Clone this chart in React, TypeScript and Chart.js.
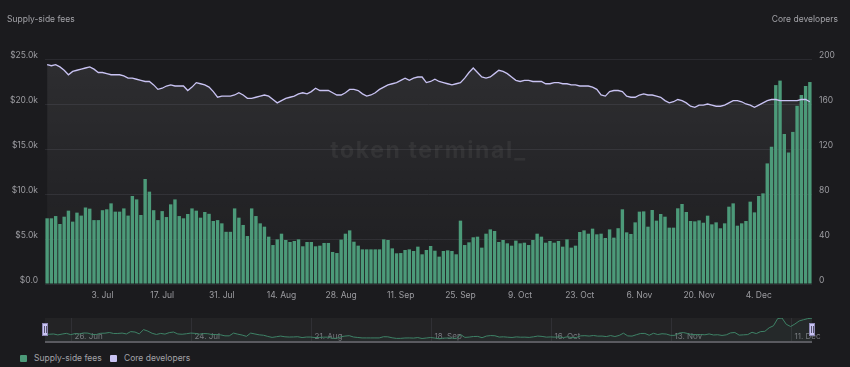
import React, { useEffect, useRef } from 'react';
import { Chart, registerables } from 'chart.js';

Chart.register(...registerables);

const START_DATE = Date.UTC(2023, 5, 20);
const MONTHS = ['Jan', 'Feb', 'Mar', 'Apr', 'May', 'Jun', 'Jul', 'Aug', 'Sep', 'Oct', 'Nov', 'Dec'];

// Supply-side fees (USD per day)
const fees = [
  7300, 7300, 7550, 6670, 7480, 8150, 6930, 7930, 7600, 8500,
  8370, 7100, 7100, 8200, 8300, 8960, 8040, 8040, 8400, 7600,
  9780, 9400, 7670, 11670, 10260, 8200, 7100, 8100, 7440, 8850,
  9400, 7550, 7300, 7780, 8400, 8150, 7370, 8000, 7800, 7000,
  7100, 6740, 5800, 5800, 8400, 7370,
  6560, 5330, 8400, 7550, 6740, 6370, 5260, 4330, 4960, 5590,
  4890, 4670, 4780, 4960, 4190, 4670, 4670, 4190, 4260, 4560,
  4560, 3560, 3440, 4930, 5590, 5960, 4700, 4260, 3850, 3850,
  3850, 3850, 3850, 4960, 4890, 3960, 3410, 3440, 3780, 3850,
  3670, 4150, 3300, 3780,
  4220, 3700, 3040, 3670, 3740, 3670, 3300, 7040, 4330, 4630,
  5190, 5260, 4040, 5590, 6070, 5890, 4670, 4890, 4520, 4260,
  4820, 4520, 4590, 4330, 4890, 5590, 5260, 4590, 4780, 4590,
  4780, 4150, 4960, 4040, 4260, 5780, 5960, 5590, 6150, 5520,
  5590, 5110,
  6070, 5150, 6200, 8300, 5740, 5560, 6850, 8040, 8070, 6370,
  8220, 7040, 7780, 7480, 6260, 6260, 8410, 8890, 8000, 7000,
  6960, 7070, 6810, 7590, 6630, 6850, 6190, 6740, 8590, 8960,
  6480, 6740, 7000, 9150, 7960, 9780, 10070, 13400, 15260, 22100,
  22600, 16670, 14600, 16900, 19800, 20990, 22000, 22440,
];

// Core developers
const developers = [
  195, 194, 195, 193, 190, 186, 189, 190, 191, 192,
  193, 191, 188, 188, 187, 186, 186, 186, 185, 183,
  183, 182, 181, 180, 180, 177, 173, 174, 176, 177,
  176, 176, 176, 172, 175, 179, 178, 177, 175, 171,
  166, 167, 167, 167, 168, 170, 168, 165, 165, 166,
  167, 168, 167, 164, 161, 163, 165, 166, 167, 169,
  170, 169, 171, 174, 172, 172, 172, 170, 168, 168,
  170, 173, 173, 172, 169, 167, 168, 170, 173, 175,
  177, 178, 179, 181, 183, 181, 183, 184, 184, 179,
  180, 182, 180, 179, 178, 177, 178, 179, 183, 188,
  192, 188, 184, 183, 184, 187, 190, 189, 187, 184,
  181, 180, 181, 181, 180, 180, 180, 178, 178, 179,
  179, 178, 178, 177, 177, 176, 176, 176, 175, 173,
  168, 167, 171, 172, 172, 171, 167, 166, 166, 168,
  169, 168, 168, 167, 166, 163, 161, 162, 164, 163,
  161, 158, 157, 159, 159, 160, 159, 158, 158, 159,
  161, 163, 163, 162, 160, 159, 157, 159, 161, 163,
  164, 164, 163, 163, 163, 163, 163, 164, 164, 162,
];

const mainTickLabels = ['3. Jul', '17. Jul', '31. Jul', '14. Aug', '28. Aug', '11. Sep', '25. Sep', '9. Oct', '23. Oct', '6. Nov', '20. Nov', '4. Dec'];
const navTickLabels = ['26. Jun', '24. Jul', '21. Aug', '18. Sep', '16. Oct', '13. Nov', '11. Dec'];

const categories = fees.map((_, i) => {
  const d = new Date(START_DATE + i * 86400000);
  return `${d.getUTCDate()}. ${MONTHS[d.getUTCMonth()]}`;
});

const FONT = 'Inter, "Noto Sans", sans-serif';
const TEXT = '#9c9ca1';
const BG = '#1b1b1e';
const GREEN = '#4c9a79';
const LAVENDER = '#c9c3f3';

const watermark = {
  id: 'watermark',
  beforeDatasetsDraw(chart: any) {
    const { ctx, chartArea } = chart;
    ctx.save();
    ctx.font = `700 23px ${FONT}`;
    (ctx as any).letterSpacing = '1.6px';
    ctx.fillStyle = 'rgba(255,255,255,0.055)';
    ctx.textAlign = 'center';
    ctx.textBaseline = 'middle';
    ctx.fillText('token terminal_', (chartArea.left + chartArea.right) / 2, chartArea.top + 92);
    ctx.restore();
  },
};

const navDecor = {
  id: 'navDecor',
  beforeDatasetsDraw(chart: any) {
    const { ctx, chartArea, scales } = chart;
    ctx.save();
    ctx.fillStyle = 'rgba(255,255,255,0.035)';
    ctx.fillRect(chartArea.left, chartArea.top, chartArea.right - chartArea.left, chartArea.bottom - chartArea.top);
    ctx.strokeStyle = '#303035';
    ctx.lineWidth = 1;
    ctx.font = `8px ${FONT}`;
    ctx.fillStyle = '#7a7a80';
    ctx.textAlign = 'left';
    ctx.textBaseline = 'middle';
    navTickLabels.forEach((lab) => {
      const idx = categories.indexOf(lab);
      if (idx < 0) return;
      const x = Math.round(scales.x.getPixelForValue(idx)) + 0.5;
      ctx.beginPath();
      ctx.moveTo(x, chartArea.top);
      ctx.lineTo(x, chartArea.bottom);
      ctx.stroke();
      ctx.fillText(lab, x + 3, chartArea.bottom - 5);
    });
    ctx.restore();
  },
  afterDraw(chart: any) {
    const { ctx, chartArea } = chart;
    ctx.save();
    ctx.strokeStyle = '#5a5a60';
    ctx.lineWidth = 2;
    ctx.beginPath();
    ctx.moveTo(chartArea.left, chartArea.bottom);
    ctx.lineTo(chartArea.right, chartArea.bottom);
    ctx.stroke();
    [chartArea.left, chartArea.right].forEach((x) => {
      ctx.fillStyle = LAVENDER;
      ctx.strokeStyle = '#8d88b5';
      ctx.lineWidth = 1;
      ctx.fillRect(Math.round(x) - 3, chartArea.top + 5, 6, 13);
      ctx.strokeRect(Math.round(x) - 2.5, chartArea.top + 5.5, 5, 12);
      ctx.strokeStyle = '#55536b';
      ctx.beginPath();
      ctx.moveTo(Math.round(x) - 0.5, chartArea.top + 8);
      ctx.lineTo(Math.round(x) - 0.5, chartArea.top + 15);
      ctx.moveTo(Math.round(x) + 1.5, chartArea.top + 8);
      ctx.lineTo(Math.round(x) + 1.5, chartArea.top + 15);
      ctx.stroke();
    });
    ctx.restore();
  },
};

export default function App() {
  const mainRef = useRef<HTMLCanvasElement>(null);
  const navRef = useRef<HTMLCanvasElement>(null);

  useEffect(() => {
    document.body.style.margin = '0';
    document.body.style.background = BG;
    const tickFont = { family: FONT, size: 8.5 };

    const main = new Chart(mainRef.current as HTMLCanvasElement, {
      type: 'bar',
      data: {
        labels: categories,
        datasets: [
          {
            type: 'line',
            label: 'Core developers',
            data: developers,
            yAxisID: 'y1',
            borderColor: LAVENDER,
            borderWidth: 1.3,
            pointRadius: 0,
            tension: 0,
            fill: 'origin',
            backgroundColor: (c: any) => {
              const { chart } = c;
              const area = chart.chartArea;
              if (!area) return 'rgba(255,255,255,0.05)';
              const g = chart.ctx.createLinearGradient(0, area.top, 0, area.bottom);
              g.addColorStop(0, 'rgba(255,255,255,0.085)');
              g.addColorStop(1, 'rgba(255,255,255,0.01)');
              return g;
            },
            order: 0,
          } as any,
          {
            type: 'bar',
            label: 'Supply-side fees',
            data: fees,
            yAxisID: 'y',
            backgroundColor: GREEN,
            categoryPercentage: 1,
            barPercentage: 0.8,
            order: 1,
          },
        ],
      },
      options: {
        responsive: false,
        animation: false,
        devicePixelRatio: 1,
        layout: { padding: { top: 59, left: 0, right: 0, bottom: 0 } },
        plugins: {
          legend: { display: false },
          tooltip: { enabled: false },
          filler: { drawTime: 'beforeDatasetsDraw' } as any,
        },
        scales: {
          x: {
            grid: { display: false, drawTicks: false },
            border: { display: false },
            ticks: {
              autoSkip: false,
              maxRotation: 0,
              minRotation: 0,
              padding: 6,
              color: TEXT,
              font: tickFont,
              callback: (_v: any, i: number) => (mainTickLabels.includes(categories[i]) ? categories[i] : null),
            },
            afterFit: (s: any) => { s.height = 26; },
          },
          y: {
            position: 'left',
            min: 0,
            max: 25000,
            grid: { color: '#2a2a2f', drawTicks: false },
            border: { display: false },
            ticks: {
              stepSize: 5000,
              padding: 7,
              labelOffset: -4,
              color: TEXT,
              font: tickFont,
              callback: (v: any) => (v === 0 ? '$0.0' : '$' + (Number(v) / 1000).toFixed(1) + 'k'),
            },
            afterFit: (s: any) => { s.width = 45; },
          },
          y1: {
            position: 'right',
            min: 0,
            max: 200,
            grid: { display: false, drawTicks: false },
            border: { display: false },
            ticks: { stepSize: 40, padding: 7, labelOffset: -4, color: TEXT, font: tickFont },
            afterFit: (s: any) => { s.width = 38; },
          },
        },
      } as any,
      plugins: [watermark],
    });

    const nav = new Chart(navRef.current as HTMLCanvasElement, {
      type: 'line',
      data: {
        labels: categories,
        datasets: [
          {
            data: fees,
            borderColor: '#3f8367',
            borderWidth: 1,
            pointRadius: 0,
            tension: 0,
            fill: 'origin',
            backgroundColor: 'rgba(79,157,123,0.06)',
          },
        ],
      },
      options: {
        responsive: false,
        animation: false,
        devicePixelRatio: 1,
        layout: { padding: { left: 45, right: 38, top: 8, bottom: 3 } },
        plugins: { legend: { display: false }, tooltip: { enabled: false } },
        scales: {
          x: { display: false, offset: false },
          y: { display: false, min: 0, max: Math.max(...fees) },
        },
      } as any,
      plugins: [navDecor],
    });

    return () => {
      main.destroy();
      nav.destroy();
    };
  }, []);

  const textStyle: React.CSSProperties = {
    position: 'absolute',
    fontFamily: FONT,
    fontSize: '8.5px',
    color: '#a3a3a8',
    whiteSpace: 'nowrap',
    lineHeight: '10px',
  };

  return (
    <div style={{ position: 'fixed', left: 0, top: 0, width: 850, height: 367, background: BG, overflow: 'hidden' }}>
      <canvas ref={mainRef} width={850} height={310} style={{ position: 'absolute', left: 0, top: 0, width: 850, height: 310 }} />
      <canvas ref={navRef} width={850} height={35} style={{ position: 'absolute', left: 0, top: 310, width: 850, height: 35 }} />
      <div style={{ ...textStyle, left: 7, top: 14 }}>Supply-side fees</div>
      <div style={{ ...textStyle, right: 12, top: 14 }}>Core developers</div>
      <div style={{ position: 'absolute', left: 20, top: 355, width: 7, height: 7, background: GREEN, borderRadius: 1 }} />
      <div style={{ ...textStyle, left: 34, top: 353 }}>Supply-side fees</div>
      <div style={{ position: 'absolute', left: 110, top: 355, width: 7, height: 7, background: LAVENDER, borderRadius: 1 }} />
      <div style={{ ...textStyle, left: 124, top: 353 }}>Core developers</div>
    </div>
  );
}
